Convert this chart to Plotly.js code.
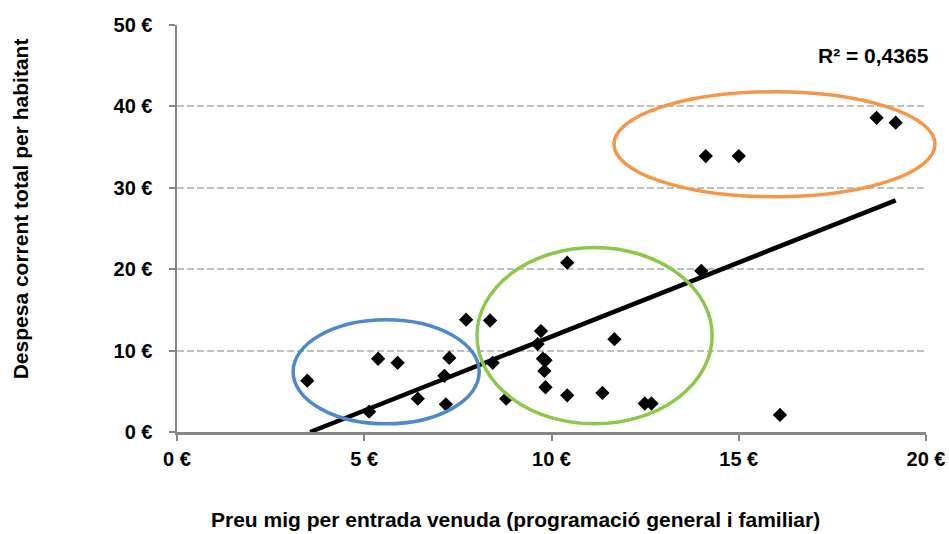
<!DOCTYPE html>
<html>
<head>
<meta charset="utf-8">
<script src="https://cdn.plot.ly/plotly-3.0.1.min.js"></script>
<style>html,body{margin:0;padding:0;background:#fff;}#chart{width:949px;height:534px;}</style>
</head>
<body>
<div id="chart"></div>
<script>
// Preu mig per entrada venuda (€)
const preuMig = [3.48, 5.13, 5.37, 5.89, 6.43, 7.14, 7.18, 7.27, 7.72, 8.36, 8.43, 8.79,
  9.63, 9.72, 9.77, 9.84, 9.81, 9.84, 10.42, 10.42, 11.36, 11.68, 12.49, 12.67,
  14.0, 14.12, 15.0, 16.1, 18.68, 19.19];
// Despesa corrent total per habitant (€)
const despesa = [6.3, 2.5, 9.0, 8.5, 4.1, 6.9, 3.4, 9.1, 13.8, 13.7, 8.5, 4.1,
  10.8, 12.4, 9.0, 8.8, 7.5, 5.5, 20.8, 4.5, 4.8, 11.4, 3.5, 3.5,
  19.8, 33.9, 33.9, 2.1, 38.6, 38.0];
// Linear trend
const trendSlope = 1.82;
const trendIntercept = -6.47;
const rSquared = "R² = 0,4365";
const xTitle = "Preu mig per entrada venuda (programació general i familiar)";
const yTitle = "Despesa corrent total per habitant";
const xTicks = [0, 5, 10, 15, 20];
const xTickLabels = ["0 €", "5 €", "10 €", "15 €", "20 €"];
const yTicks = [0, 10, 20, 30, 40, 50];
const yTickLabels = ["0 €", "10 €", "20 €", "30 €", "40 €", "50 €"];
// group ellipses [x0, x1, y0, y1] in data units
const groupBlue = [3.10, 8.07, 1.0, 13.8];
const groupGreen = [8.01, 14.29, 1.0, 22.66];
const groupOrange = [11.67, 20.24, 28.9, 41.8];

const xMin = 0, xMax = 20, yMin = 0, yMax = 50;
const dataXMin = Math.min(...preuMig), dataXMax = Math.max(...preuMig);
// clip trend line at y = 0 (axis minimum)
const tStart = Math.max(dataXMin, -trendIntercept / trendSlope);
const trendX = [tStart, dataXMax];
const trendY = trendX.map(x => trendSlope * x + trendIntercept);

const font = "Liberation Sans, Arial, sans-serif";
const tickFont = {family: font, size: 20, color: '#000000', weight: 'bold'};
const titleFont = {family: font, size: 21, color: '#000000', weight: 'bold'};

function ellipse(b, color) {
  return {
    type: 'circle', xref: 'paper', yref: 'paper',
    x0: (b[0] - xMin) / (xMax - xMin), x1: (b[1] - xMin) / (xMax - xMin),
    y0: (b[2] - yMin) / (yMax - yMin), y1: (b[3] - yMin) / (yMax - yMin),
    line: {color: color, width: 3.5}, layer: 'above'
  };
}

const traces = [
  {x: trendX, y: trendY, type: 'scatter', mode: 'lines',
   line: {color: '#000000', width: 4.5}, hoverinfo: 'skip'},
  {x: preuMig, y: despesa, type: 'scatter', mode: 'markers',
   marker: {symbol: 'diamond', size: 11, color: '#000000'}}
];

const layout = {
  width: 949, height: 534,
  margin: {l: 177, r: 23, t: 25, b: 102},
  paper_bgcolor: '#ffffff', plot_bgcolor: '#ffffff',
  showlegend: false,
  font: tickFont,
  xaxis: {
    range: [xMin, xMax], tickvals: xTicks, ticktext: xTickLabels,
    showgrid: false, zeroline: false,
    showline: true, linecolor: '#868686', linewidth: 2.5,
    ticks: 'outside', ticklen: 6, tickwidth: 2, tickcolor: '#868686',
    ticklabelstandoff: 1,
    tickfont: tickFont
  },
  yaxis: {
    range: [yMin, yMax], tickvals: yTicks, ticktext: yTickLabels,
    showgrid: true, gridcolor: '#c0c0c0', gridwidth: 2, griddash: '7px,3px',
    zeroline: false,
    showline: true, linecolor: '#868686', linewidth: 2.5,
    ticks: 'outside', ticklen: 6, tickwidth: 2, tickcolor: '#868686',
    ticklabelstandoff: 12,
    tickfont: tickFont
  },
  shapes: [
    ellipse(groupBlue, '#4f88cf'),
    ellipse(groupGreen, '#8cc94a'),
    ellipse(groupOrange, '#f79646')
  ],
  annotations: [
    {text: rSquared, xref: 'paper', yref: 'paper', x: 1.007, y: 0.926,
     xanchor: 'right', yanchor: 'middle', showarrow: false, font: titleFont},
    {text: xTitle, xref: 'paper', yref: 'paper', x: 0.4524, y: -0.215,
     xanchor: 'center', yanchor: 'middle', showarrow: false, font: titleFont},
    {text: yTitle, xref: 'paper', yref: 'paper', x: -0.2088, y: 0.5486,
     xanchor: 'center', yanchor: 'middle', showarrow: false, textangle: -90, font: titleFont}
  ]
};

Plotly.newPlot('chart', traces, layout, {displayModeBar: false, staticPlot: true});
</script>
</body>
</html>
